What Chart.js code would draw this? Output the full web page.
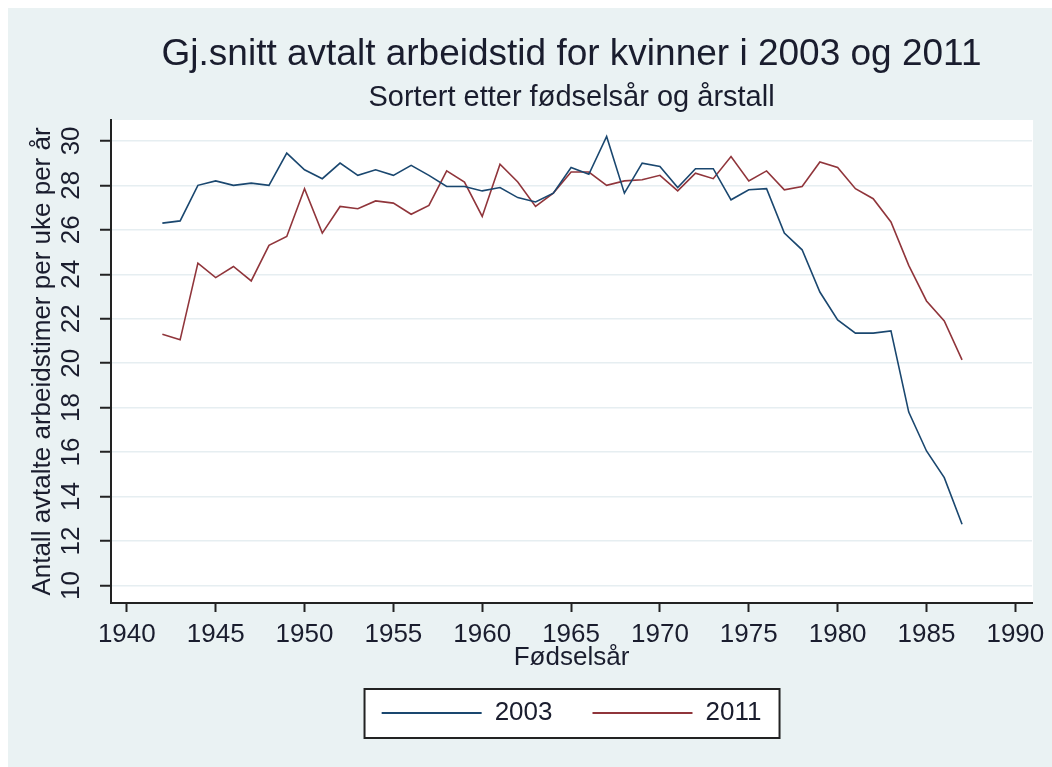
<!DOCTYPE html>
<html>
<head>
<meta charset="utf-8">
<title>Gj.snitt avtalt arbeidstid for kvinner i 2003 og 2011</title>
<script src="https://cdn.jsdelivr.net/npm/chart.js@4.4.1/dist/chart.umd.min.js"></script>
<style>
    html, body { margin: 0; padding: 0; background: #ffffff; }
    #wrap { width: 1052px; height: 767px; }
</style>
</head>
<body>
<div id="wrap"><canvas id="chart" width="1052" height="767"></canvas></div>
<script>
// Birth years (x) and average agreed weekly hours
const years = [1942, 1943, 1944, 1945, 1946, 1947, 1948, 1949, 1950, 1951,
               1952, 1953, 1954, 1955, 1956, 1957, 1958, 1959, 1960, 1961,
               1962, 1963, 1964, 1965, 1966, 1967, 1968, 1969, 1970, 1971,
               1972, 1973, 1974, 1975, 1976, 1977, 1978, 1979, 1980, 1981,
               1982, 1983, 1984, 1985, 1986, 1987];

const hours2003 = [26.3, 26.4, 28.0, 28.2, 28.0, 28.1, 28.0, 29.45, 28.7, 28.3,
                   29.0, 28.45, 28.7, 28.45, 28.9, 28.45, 27.95, 27.95, 27.75, 27.9,
                   27.45, 27.25, 27.65, 28.8, 28.5, 30.2, 27.65, 29.0, 28.85, 27.9,
                   28.75, 28.75, 27.35, 27.8, 27.85, 25.85, 25.1, 23.2, 21.95, 21.35,
                   21.35, 21.45, 17.8, 16.05, 14.85, 12.75];

const hours2011 = [21.3, 21.05, 24.5, 23.85, 24.35, 23.7, 25.3, 25.7, 27.85, 25.85,
                   27.05, 26.95, 27.3, 27.2, 26.7, 27.1, 28.65, 28.15, 26.6, 28.95,
                   28.15, 27.05, 27.65, 28.6, 28.6, 28.0, 28.2, 28.25, 28.45, 27.75,
                   28.55, 28.3, 29.3, 28.2, 28.65, 27.8, 27.95, 29.05, 28.8, 27.85,
                   27.4, 26.35, 24.4, 22.8, 21.9, 20.15];

const seriesLabels = ['2003', '2011'];
const xTicks = [1940, 1945, 1950, 1955, 1960, 1965, 1970, 1975, 1980, 1985, 1990];
const yTicks = [10, 12, 14, 16, 18, 20, 22, 24, 26, 28, 30];

const BG = '#eaf2f3';
const GRID = '#e6eef1';
const AXIS = '#222222';
const TEXT = '#1a1d2e';
const NAVY = '#1a476f';
const MAROON = '#90353b';

Chart.defaults.font.family = "'Liberation Sans', Arial, sans-serif";
Chart.defaults.color = TEXT;

// Stata centres titles and legend on the plot region, not on the whole graph
const centerOnPlot = {
    id: 'centerOnPlot',
    afterLayout(chart) {
        const a = chart.chartArea;
        chart.boxes.filter(b => !b.axis).forEach(b => {
            b.left = a.left;
            b.right = a.right;
            b.width = a.right - a.left;
        });
    }
};

// Stata-like backdrop: grey graph region, white plot region, framed legend
const backdrop = {
    id: 'backdrop',
    beforeDraw(chart) {
        const { ctx, chartArea: a, width, height } = chart;
        ctx.save();
        ctx.fillStyle = '#ffffff';
        ctx.fillRect(0, 0, width, height);
        ctx.fillStyle = BG;
        ctx.fillRect(8, 8, width - 8, height - 8);
        ctx.fillStyle = '#ffffff';
        ctx.fillRect(a.left, a.top, a.right - a.left + 1, a.bottom - a.top);

        const lg = chart.legend;
        const cx = (lg.left + lg.right) / 2;
        const cy = lg.top + lg.options.labels.padding + 13;
        ctx.fillRect(cx - 207, cy - 24, 415, 49);
        ctx.strokeStyle = AXIS;
        ctx.lineWidth = 2;
        ctx.strokeRect(cx - 207, cy - 24, 415, 49);
        ctx.restore();
    }
};

function series(values) {
    return years.map((yr, i) => ({ x: yr, y: values[i] }));
}

new Chart(document.getElementById('chart'), {
    type: 'line',
    data: {
        datasets: [{
            label: seriesLabels[0],
            data: series(hours2003),
            borderColor: NAVY,
            backgroundColor: NAVY,
            borderWidth: 1.6,
            pointRadius: 0,
            tension: 0
        }, {
            label: seriesLabels[1],
            data: series(hours2011),
            borderColor: MAROON,
            backgroundColor: MAROON,
            borderWidth: 1.6,
            pointRadius: 0,
            tension: 0
        }]
    },
    options: {
        responsive: false,
        animation: false,
        layout: { padding: { left: 8, right: 18, top: 0, bottom: 31 } },
        plugins: {
            title: {
                display: true,
                text: 'Gj.snitt avtalt arbeidstid for kvinner i 2003 og 2011',
                color: TEXT,
                font: { size: 37, weight: 'normal' },
                padding: { top: 32.4, bottom: 0 }
            },
            subtitle: {
                display: true,
                text: 'Sortert etter fødselsår og årstall',
                color: TEXT,
                font: { size: 29, weight: 'normal' },
                padding: { top: 4, bottom: 4.4 }
            },
            legend: {
                position: 'bottom',
                labels: {
                    boxWidth: 100,
                    boxHeight: 2,
                    padding: 40,
                    color: TEXT,
                    font: { size: 26 },
                    generateLabels(chart) {
                        return Chart.defaults.plugins.legend.labels.generateLabels(chart)
                            .map(item => ({ ...item, lineWidth: 0 }));
                    }
                }
            },
            tooltip: { enabled: false }
        },
        scales: {
            x: {
                type: 'linear',
                min: 1939.11,
                max: 1990.94,
                afterBuildTicks: s => { s.ticks = xTicks.map(v => ({ value: v })); },
                afterFit: s => { s.height = 57; },
                border: { color: AXIS, width: 2 },
                grid: { drawOnChartArea: false, tickLength: 9, tickColor: AXIS, tickWidth: 2 },
                ticks: {
                    autoSkip: false,
                    maxRotation: 0,
                    padding: 7.4,
                    color: TEXT,
                    font: { size: 26 },
                    callback: v => String(v)
                },
                title: {
                    display: true,
                    text: 'Fødselsår',
                    color: TEXT,
                    font: { size: 26 },
                    padding: { top: 0, bottom: -13.6 }
                }
            },
            y: {
                min: 9.21,
                max: 30.94,
                afterBuildTicks: s => { s.ticks = yTicks.map(v => ({ value: v })); },
                afterFit: s => { s.width = 103; },
                border: { color: AXIS, width: 2 },
                grid: { color: GRID, lineWidth: 1.5, tickLength: 11, tickColor: AXIS, tickWidth: 2 },
                ticks: {
                    autoSkip: false,
                    minRotation: 90,
                    maxRotation: 90,
                    crossAlign: 'center',
                    padding: 13.5,
                    color: TEXT,
                    font: { size: 26 }
                },
                title: {
                    display: true,
                    text: 'Antall avtalte arbeidstimer per uke per år',
                    color: TEXT,
                    font: { size: 26 },
                    padding: { top: 19.4, bottom: 0 }
                }
            }
        }
    },
    plugins: [centerOnPlot, backdrop]
});
</script>
</body>
</html>
